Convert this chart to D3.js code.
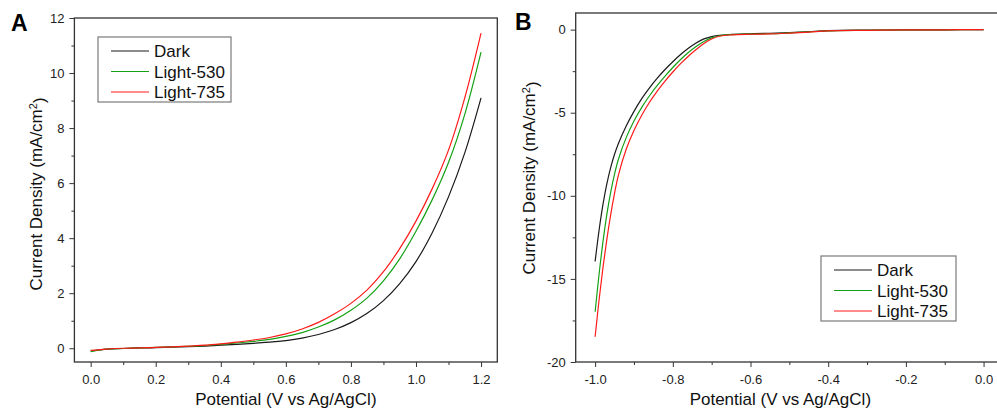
<!DOCTYPE html>
<html>
<head>
<meta charset="utf-8">
<script src="https://cdn.jsdelivr.net/npm/d3@7"></script>
<style>
  body { margin: 0; background: #fff; }
  svg { display: block; font-family: "Liberation Sans", Arial, sans-serif; }
</style>
</head>
<body>
<div id="chart"></div>
<script>
// Series names and colours
const seriesNames = ["Dark", "Light-530", "Light-735"];
const seriesColors = ["#1a1a1a", "#16a016", "#ff1a1a"];

// Panel A: anodic sweep, 0 to 1.2 V
const potentialA = [0, 0.05, 0.1, 0.15, 0.2, 0.25, 0.3, 0.35, 0.4, 0.45, 0.5, 0.55, 0.6,
  0.65, 0.7, 0.75, 0.8, 0.85, 0.9, 0.95, 1.0, 1.05, 1.1, 1.15, 1.2];
const darkA = [-0.10, -0.03, -0.01, 0.01, 0.02, 0.04, 0.06, 0.08, 0.11, 0.14, 0.18, 0.22, 0.28,
  0.37, 0.50, 0.68, 0.93, 1.27, 1.73, 2.35, 3.15, 4.20, 5.50, 7.10, 9.10];
const light530A = [-0.12, -0.03, -0.01, 0.01, 0.03, 0.05, 0.07, 0.10, 0.14, 0.19, 0.25, 0.32, 0.43,
  0.57, 0.77, 1.03, 1.38, 1.83, 2.45, 3.25, 4.25, 5.40, 6.75, 8.50, 10.76];
const light735A = [-0.08, -0.03, 0.0, 0.01, 0.03, 0.05, 0.08, 0.11, 0.16, 0.22, 0.30, 0.39, 0.52,
  0.70, 0.94, 1.25, 1.63, 2.12, 2.78, 3.62, 4.62, 5.80, 7.20, 9.10, 11.45];

// Panel B: cathodic sweep, -1.0 to 0 V
const potentialB = [-1.0, -0.99, -0.98, -0.97, -0.96, -0.95, -0.94, -0.92, -0.90, -0.88, -0.86,
  -0.84, -0.82, -0.80, -0.78, -0.76, -0.74, -0.72, -0.70, -0.68, -0.65, -0.6, -0.55, -0.5,
  -0.45, -0.4, -0.3, -0.2, -0.1, 0.0];
const darkB = [-13.95, -12.1, -10.55, -9.3, -8.3, -7.5, -6.85, -5.8, -4.92, -4.15, -3.5,
  -2.92, -2.4, -1.93, -1.5, -1.12, -0.8, -0.56, -0.42, -0.34, -0.29, -0.25, -0.22, -0.18,
  -0.12, -0.06, -0.03, -0.02, -0.01, 0.0];
const light530B = [-16.98, -14.75, -12.8, -11.15, -9.8, -8.7, -7.8, -6.5, -5.5, -4.68, -3.98,
  -3.36, -2.8, -2.28, -1.8, -1.38, -1.02, -0.72, -0.5, -0.37, -0.3, -0.27, -0.25, -0.2,
  -0.14, -0.07, -0.04, -0.02, -0.01, 0.0];
const light735B = [-18.48, -16.3, -14.35, -12.65, -11.15, -9.85, -8.75, -7.2, -6.07, -5.15, -4.37,
  -3.7, -3.1, -2.55, -2.05, -1.6, -1.2, -0.84, -0.56, -0.4, -0.32, -0.28, -0.26, -0.21,
  -0.15, -0.07, -0.04, -0.02, -0.01, 0.0];

// Tick values
const xTicksA = [0, 0.2, 0.4, 0.6, 0.8, 1.0, 1.2];
const xMinorA = [0.1, 0.3, 0.5, 0.7, 0.9, 1.1];
const yTicksA = [0, 2, 4, 6, 8, 10, 12];
const yMinorA = [1, 3, 5, 7, 9, 11];
const xTicksB = [-1.0, -0.8, -0.6, -0.4, -0.2, 0.0];
const xMinorB = [-0.9, -0.7, -0.5, -0.3, -0.1];
const yTicksB = [0, -5, -10, -15, -20];
const yMinorB = [-2.5, -7.5, -12.5, -17.5];

const svg = d3.select("#chart").append("svg")
  .attr("width", 997)
  .attr("height", 410);

svg.append("rect").attr("width", 997).attr("height", 410).attr("fill", "#fff");

function drawPanel(p) {
  const x = d3.scaleLinear().domain(p.xDomain).range([p.left, p.right]);
  const y = d3.scaleLinear().domain(p.yDomain).range([p.bottom, p.top]);
  const g = svg.append("g");

  // major + minor ticks, outward
  function axis(gen, ticks, size, fmt, transform) {
    const a = g.append("g")
      .attr("transform", transform)
      .call(gen.tickValues(ticks).tickSize(size).tickPadding(5).tickFormat(fmt));
    a.select(".domain").remove();
    a.selectAll(".tick line").attr("stroke", "#333").attr("stroke-width", 1);
    a.selectAll(".tick text")
      .attr("fill", "#222")
      .style("font-size", "13px")
      .style("font-family", "'Liberation Sans', Arial, sans-serif");
    return a;
  }
  axis(d3.axisBottom(x), p.xTicks, 5, d => d.toFixed(1), `translate(0,${p.bottom})`)
    .selectAll(".tick text").attr("dy", "0.9em");
  axis(d3.axisBottom(x), p.xMinor, 3, "", `translate(0,${p.bottom})`);
  axis(d3.axisLeft(y), p.yTicks, 5, d => String(d), `translate(${p.left},0)`);
  axis(d3.axisLeft(y), p.yMinor, 3, "", `translate(${p.left},0)`);

  // data lines, clipped to frame
  const clipId = "clip" + p.label;
  svg.append("clipPath").attr("id", clipId).append("rect")
    .attr("x", p.left).attr("y", p.top)
    .attr("width", p.right - p.left).attr("height", p.bottom - p.top);

  const line = d3.line()
    .x(d => x(d[0]))
    .y(d => y(d[1]))
    .curve(d3.curveCatmullRom.alpha(0.5));

  p.series.forEach((vals, i) => {
    g.append("path")
      .datum(p.xs.map((v, k) => [v, vals[k]]))
      .attr("clip-path", `url(#${clipId})`)
      .attr("fill", "none")
      .attr("stroke", seriesColors[i])
      .attr("stroke-width", 1.2)
      .attr("d", line);
  });

  // frame
  g.append("rect")
    .attr("x", p.left).attr("y", p.top)
    .attr("width", p.right - p.left).attr("height", p.bottom - p.top)
    .attr("fill", "none").attr("stroke", "#333").attr("stroke-width", 1.3);

  // axis titles
  g.append("text")
    .attr("x", (p.left + Math.min(p.right, 997)) / 2 + p.xTitleShift)
    .attr("y", 405)
    .attr("text-anchor", "middle")
    .attr("fill", "#111")
    .style("font-size", "17px")
    .text("Potential (V vs Ag/AgCl)");

  const yt = g.append("text")
    .attr("transform", `translate(${p.yTitleX},${p.yTitleY}) rotate(-90)`)
    .attr("text-anchor", "middle")
    .attr("fill", "#111")
    .style("font-size", "17px");
  yt.append("tspan").text("Current Density (mA/cm");
  yt.append("tspan").attr("dy", "-0.45em").style("font-size", "11px").text("2");
  yt.append("tspan").attr("dy", "0.45em").text(")");

  // panel letter
  g.append("text")
    .attr("x", p.labelX).attr("y", p.labelY)
    .style("font-size", "23px").style("font-weight", "bold")
    .attr("fill", "#000")
    .text(p.label);

  // legend
  const lg = g.append("g").attr("transform", `translate(${p.legend[0]},${p.legend[1]})`);
  lg.append("rect")
    .attr("x", 0).attr("y", 0).attr("width", p.legend[2]).attr("height", 65)
    .attr("fill", "#fff").attr("stroke", "#7a7a7a").attr("stroke-width", 1.2);
  seriesNames.forEach((name, i) => {
    const ry = 14 + i * 20.5;
    lg.append("line")
      .attr("x1", 13).attr("x2", 51).attr("y1", ry).attr("y2", ry)
      .attr("stroke", seriesColors[i]).attr("stroke-width", 1.2);
    lg.append("text")
      .attr("x", 56).attr("y", ry + 6)
      .attr("fill", "#111")
      .style("font-size", "17px")
      .text(name);
  });
}

drawPanel({
  label: "A", labelX: 11, labelY: 31,
  left: 74.4, right: 497.3, top: 18, bottom: 362,
  xDomain: [-0.05, 1.25], yDomain: [-0.5, 12],
  xTicks: xTicksA, xMinor: xMinorA, yTicks: yTicksA, yMinor: yMinorA,
  xs: potentialA, series: [darkA, light530A, light735A],
  xTitleShift: 0, yTitleX: 42, yTitleY: 194,
  legend: [98, 37, 133]
});

drawPanel({
  label: "B", labelX: 515, labelY: 29.5,
  left: 575.7, right: 1003, top: 13, bottom: 362,
  xDomain: [-1.05, 0.05], yDomain: [-20, 1],
  xTicks: xTicksB, xMinor: xMinorB, yTicks: yTicksB, yMinor: yMinorB,
  xs: potentialB, series: [darkB, light530B, light735B],
  xTitleShift: -6, yTitleX: 535, yTitleY: 178,
  legend: [821, 256, 135]
});
</script>
</body>
</html>
